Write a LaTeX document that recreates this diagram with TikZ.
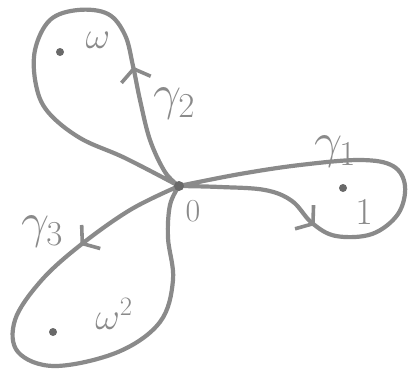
\documentclass[tikz,border=0pt]{standalone}
\usepackage{fix-cm}
\usetikzlibrary{arrows.meta,decorations.markings}
\definecolor{pencil}{RGB}{138,138,138}
\definecolor{pencildark}{RGB}{105,105,105}
\tikzset{
  loopline/.style={pencil, line width=4.2pt, line cap=round, line join=round},
  barb/.style={decoration={markings, mark=at position #1 with
      {\arrow[pencil]{Straight Barb[length=11pt,width=30pt,line width=3.6pt]}}},
      postaction={decorate}},
  pt/.style={circle, fill=pencildark, inner sep=0pt, minimum size=8pt},
  lbl/.style={text=pencil, font=\fontsize{38}{38}\selectfont, inner sep=0pt},
  biglbl/.style={lbl, font=\fontsize{50}{50}\selectfont},
  smalllbl/.style={lbl, font=\fontsize{32}{32}\selectfont},
}
\begin{document}
\begin{tikzpicture}[x=1pt, y=-1pt]
  \useasboundingbox (0,0) rectangle (411,370);
  \coordinate (O) at (179,186);

  % loop around 1
  \draw[loopline, barb=0.29] plot[smooth, tension=0.6] coordinates {
    (O) (220,187) (265,190) (292,201) (312,223) (336,236) (372,234)
    (398,214) (405,186) (393,166) (360,160) (300,165) (240,174) (O)};
  % loop around omega
  \draw[loopline, barb=0.26] plot[smooth, tension=0.6] coordinates {
    (O) (165,172) (150,140) (140,100) (133,66) (125,35) (108,14) (78,10)
    (50,20) (35,50) (36,85) (48,112) (80,138) (125,158) (O)};
  % loop around omega^2
  \draw[loopline, barb=0.21] plot[smooth, tension=0.6] coordinates {
    (O) (130,210) (78,247) (40,282) (15,320) (18,352) (55,366) (118,352)
    (160,322) (173,280) (168,238) (170,205) (O)};

  % centre and enclosed points
  \node[pt, minimum size=10pt] (o) at (O) {};
  \node[pt] (p1) at (343,188) {};
  \node[pt] (pw) at (60,52) {};
  \node[pt] (pw2) at (53,332) {};

  % labels
  \node[smalllbl] (l0) at (193,211) {$0$};
  \node[lbl] (l1) at (364,212) {$1$};
  \node[lbl] (lw) at (98,40) {$\omega$};
  \node[lbl] (lw2) at (114,314) {$\omega^{2}$};
  \node[biglbl] (g1) at (335,152) {$\gamma_1$};
  \node[biglbl] (g2) at (174,104) {$\gamma_2$};
  \node[biglbl] (g3) at (42,232) {$\gamma_3$};
\end{tikzpicture}
\end{document}
